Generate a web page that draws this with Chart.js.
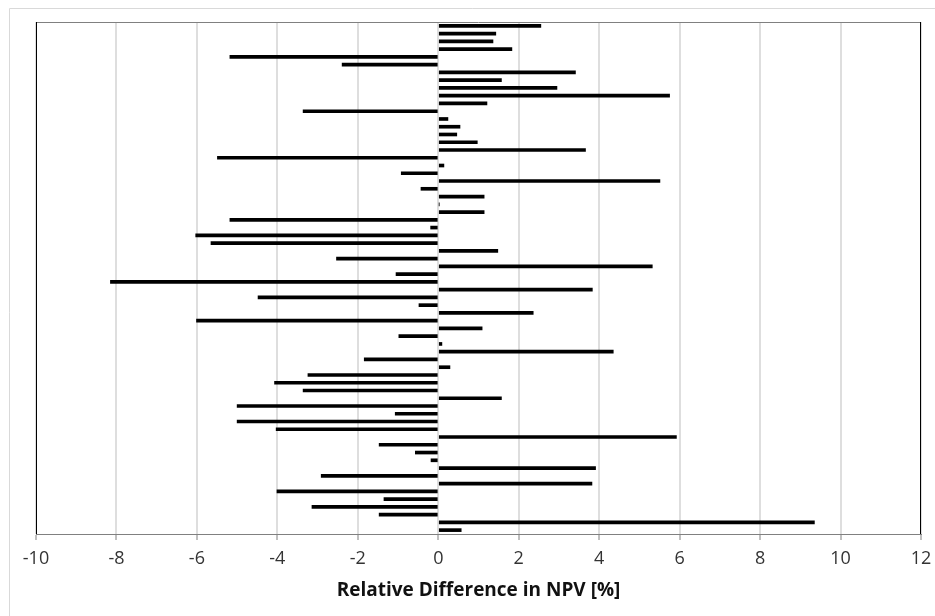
<!DOCTYPE html>
<html>
<head>
<meta charset="utf-8">
<script src="https://cdn.jsdelivr.net/npm/chart.js@4.4.1/dist/chart.umd.min.js"></script>
<style>
  body { margin: 0; background: #fff; }
  #wrap { width: 935px; height: 616px; }
</style>
</head>
<body>
<div id="wrap"><canvas id="npvChart" width="935" height="616"></canvas></div>
<script>
// one bar per case, top to bottom
const cases = [];
for (let i = 1; i <= 66; i++) cases.push('Case ' + i);

const relDiff = [
    2.55, 1.43, 1.36, 1.83, -5.18, -2.39, 3.41, 1.57, 2.95, 5.75,
    1.21, -3.36, 0.24, 0.54, 0.46, 0.97, 3.66, -5.49, 0.14, -0.92,
    5.51, -0.43, 1.14, 0.02, 1.14, -5.18, -0.19, -6.03, -5.65, 1.48,
    -2.53, 5.32, -1.05, -8.15, 3.83, -4.48, -0.48, 2.36, -6.01, 1.09,
    -0.98, 0.09, 4.35, -1.84, 0.29, -3.24, -4.07, -3.36, 1.57, -5.00,
    -1.07, -5.00, -4.03, 5.92, -1.47, -0.57, -0.18, 3.91, -2.91, 3.82,
    -4.01, -1.35, -3.14, -1.47, 9.35, 0.57
];

const xMin = -10;
const xMax = 12;
const xStep = 2;
const xTitle = 'Relative Difference in NPV [%]';

// frame round the plot + the faint outer border
const framePlugin = {
    id: 'frame',
    beforeDraw(chart) {
        const c = chart.ctx;
        c.save();
        c.strokeStyle = '#d9d9d9';
        c.lineWidth = 1;
        c.beginPath();
        c.moveTo(9.5, 616);
        c.lineTo(9.5, 8.5);
        c.lineTo(935, 8.5);
        c.stroke();
        c.restore();
    },
    afterDraw(chart) {
        const a = chart.chartArea;
        const c = chart.ctx;
        c.save();
        c.lineWidth = 1;
        c.strokeStyle = '#808080';
        c.beginPath();
        c.moveTo(a.left, a.top + 0.5);
        c.lineTo(a.right, a.top + 0.5);
        c.stroke();
        c.strokeStyle = '#000';
        c.beginPath();
        c.moveTo(a.left + 0.5, a.top);
        c.lineTo(a.left + 0.5, a.bottom);
        c.moveTo(a.right - 0.5, a.top);
        c.lineTo(a.right - 0.5, a.bottom);
        c.stroke();
        c.restore();
    }
};

var ctx = document.getElementById('npvChart').getContext('2d');
new Chart(ctx, {
    type: 'bar',
    data: {
        labels: cases,
        datasets: [{
            data: relDiff,
            backgroundColor: '#000',
            barThickness: 3,
            borderWidth: 0
        }]
    },
    options: {
        indexAxis: 'y',
        responsive: false,
        animation: false,
        layout: { padding: { left: 36, top: 22, right: 14, bottom: 0 } },
        scales: {
            x: {
                min: xMin,
                max: xMax,
                ticks: {
                    stepSize: xStep,
                    padding: 8,
                    color: '#333',
                    font: { family: 'Open Sans', size: 18 }
                },
                grid: {
                    color: '#dedede',
                    lineWidth: 2,
                    tickColor: '#808080',
                    tickWidth: 1,
                    tickLength: 6
                },
                border: { display: true, color: '#808080', width: 1 },
                title: {
                    display: true,
                    text: xTitle,
                    color: '#111',
                    font: { family: 'Open Sans', size: 19, weight: 'bold' },
                    padding: { top: 0, bottom: 14 }
                },
                afterFit: function(scale) {
                    scale.height = 82;
                    // plot edges are set by layout padding alone
                    scale.paddingLeft = 0;
                    scale.paddingRight = 0;
                }
            },
            y: { display: false }
        },
        plugins: {
            legend: { display: false },
            tooltip: { enabled: false }
        }
    },
    plugins: [framePlugin]
});
</script>
</body>
</html>
